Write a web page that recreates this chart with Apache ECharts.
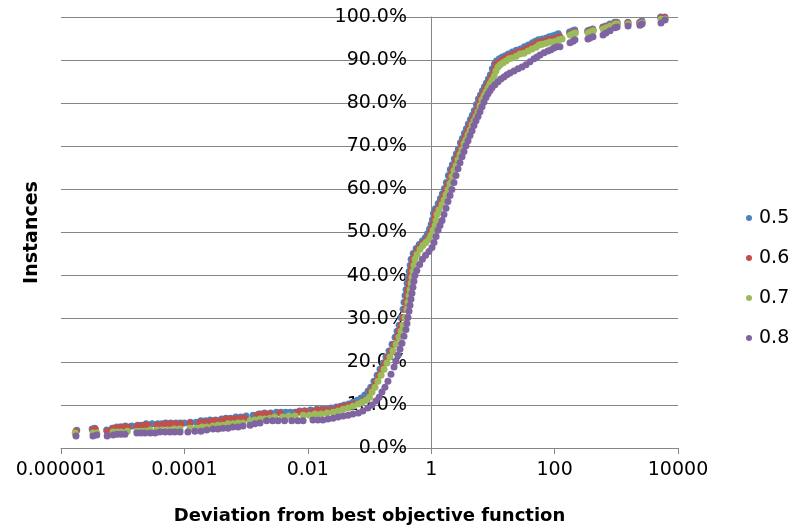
<!DOCTYPE html>
<html><head><meta charset="utf-8">
<script src="https://cdn.jsdelivr.net/npm/echarts@6/dist/echarts.min.js"></script>
<style>html,body{margin:0;padding:0;background:#fff}#c{width:793px;height:530px}</style>
</head><body><div id="c"></div>
<script>
const seriesNames = ['0.5', '0.6', '0.7', '0.8'];
const xTickLabels = ['0.000001', '0.0001', '0.01', '1', '100', '10000'];
const yTickLabels = ['0.0%', '10.0%', '20.0%', '30.0%', '40.0%', '50.0%', '60.0%', '70.0%', '80.0%', '90.0%', '100.0%'];

const s05 = [[1.8e-6,4.1],[3.2e-6,4.4],[3.5e-6,4.6],[5.5e-6,4.2],[6.8e-6,4.6],[8.0e-6,4.9],[9.2e-6,4.9],[1.1e-5,5.1],[1.4e-5,5.1],[1.75e-5,5.3],[2.0e-5,5.3],[2.4e-5,5.6],[3.0e-5,5.6],[3.7e-5,5.6],[4.3e-5,5.6],[5.0e-5,5.8],[6.0e-5,5.8],[7.3e-5,5.8],[8.6e-5,5.8],[1.0e-4,5.8],[1.25e-4,6.0],[1.55e-4,6.0],[1.85e-4,6.3],[2.2e-4,6.3],[2.6e-4,6.5],[3.2e-4,6.5],[4.0e-4,6.7],[4.7e-4,6.9],[5.6e-4,6.9],[6.8e-4,7.2],[8.2e-4,7.2],[1.0e-3,7.4],[1.3e-3,7.6],[1.6e-3,7.9],[2.0e-3,8.1],[2.5e-3,8.1],[3.1e-3,8.3],[3.7e-3,8.3],[4.4e-3,8.3],[5.2e-3,8.3],[6.2e-3,8.3],[7.4e-3,8.6],[8.8e-3,8.6],[1.1e-2,8.8],[1.4e-2,9.0],[1.7e-2,9.0],[2.0e-2,9.0],[2.4e-2,9.3],[2.9e-2,9.5],[3.4e-2,9.7],[3.9e-2,10.0],[4.6e-2,10.2],[5.4e-2,10.6],[6.3e-2,11.1],[7.3e-2,11.6],[8.4e-2,12.3],[9.5e-2,13.2],
[0.105,14.1],[0.118,15.5],[0.133,16.9],[0.148,18.3],[0.166,19.7],[0.185,21.1],[0.207,22.5],[0.232,24.1],[0.26,25.7],[0.28,27.1],[0.302,28.5],[0.325,30.3],[0.35,32.2],[0.363,33.8],[0.377,35.4],[0.392,36.8],[0.408,38.2],[0.423,39.6],[0.44,41.0],[0.456,42.4],[0.473,43.8],[0.51,45.1],[0.57,46.3],[0.64,47.2],[0.72,48.0],[0.8,48.8],[0.87,49.7],[0.94,50.8],[1.0,51.9],[1.05,53.0],[1.09,54.4],[1.17,55.5],[1.3,56.7],[1.41,57.9],[1.52,59.0],[1.64,60.2],[1.76,61.6],[1.9,63.2],[2.04,64.6],[2.2,65.7],[2.37,67.1],[2.56,68.3],[2.76,69.4],[2.98,70.8],[3.2,71.8],[3.45,73.0],[3.72,74.1],[4.0,75.2],[4.32,76.2],[4.65,77.2],[5.0,78.3],[5.4,79.7],[5.82,81.0],[6.28,81.9],[6.77,82.9],[7.3,83.8],[7.86,84.7],[8.45,85.6],[9.1,86.6],[9.8,88.0],[10.6,89.1],[11.4,89.8],[12.7,90.3],[14.2,90.7],[15.9,91.0],[17.8,91.4],[20.7,91.9],[24.0,92.3],[27.9,92.6],[32.4,93.1],[37.6,93.5],[43.7,94.0],[48.9,94.4],[54.6,94.7],[63.4,94.9],[73.5,95.1],[82.2,95.4],[92,95.6],[103,95.8],[115,96.1],[175,96.5],[196,96.8],[212,97.0],[345,96.8],[372,97.0],[415,97.2],[605,97.7],[675,97.9],[785,98.4],[940,98.8],[1020,98.8],[1540,98.8],[2400,98.8],[2600,99.1],[5250,100],[6100,100]];

const s06 = [[1.75e-6,3.9],[3.3e-6,4.2],[3.6e-6,4.4],[5.6e-6,3.9],[7.0e-6,4.6],[8.1e-6,4.6],[9.4e-6,4.9],[1.09e-5,4.9],[1.22e-5,4.9],[1.7e-5,5.1],[1.98e-5,5.1],[2.3e-5,5.3],[2.57e-5,5.3],[3.6e-5,5.3],[4.17e-5,5.3],[4.85e-5,5.6],[5.85e-5,5.6],[7.0e-5,5.6],[8.8e-5,5.6],[1.23e-4,5.8],[1.79e-4,6.0],[2.08e-4,6.0],[2.41e-4,6.0],[2.9e-4,6.3],[3.37e-4,6.3],[4.2e-4,6.5],[4.9e-4,6.7],[5.7e-4,6.7],[6.9e-4,6.7],[8.0e-4,6.9],[9.6e-4,6.9],[1.5e-3,7.6],[1.74e-3,7.9],[2.1e-3,7.9],[2.44e-3,7.9],[3.54e-3,8.1],[6.7e-3,8.3],[7.8e-3,8.3],[9.0e-3,8.6],[1.21e-2,8.6],[1.46e-2,8.8],[1.7e-2,8.8],[1.97e-2,8.8],[2.29e-2,8.8],[2.97e-2,9.3],[3.45e-2,9.5],[4.0e-2,9.7],[4.83e-2,10.0],[5.83e-2,10.2],[7.0e-2,10.4],[7.8e-2,10.9],[9.1e-2,11.3],
[0.102,13.0],[0.114,14.1],[0.127,15.5],[0.143,16.9],[0.159,18.3],[0.178,19.7],[0.199,21.1],[0.223,22.5],[0.25,24.1],[0.279,25.7],[0.30,27.1],[0.324,28.5],[0.349,30.3],[0.376,32.2],[0.39,33.8],[0.405,35.4],[0.42,36.8],[0.437,38.2],[0.453,39.6],[0.47,41.0],[0.488,42.4],[0.506,43.8],[0.545,44.9],[0.61,46.1],[0.68,47.0],[0.76,47.7],[0.85,48.4],[0.92,49.3],[0.99,50.5],[1.07,51.6],[1.11,52.8],[1.15,54.2],[1.24,55.3],[1.39,56.5],[1.5,57.6],[1.61,58.8],[1.74,60.0],[1.87,61.3],[2.02,63.0],[2.17,64.4],[2.34,65.5],[2.52,66.9],[2.72,68.1],[2.93,69.2],[3.16,70.6],[3.4,71.5],[3.66,72.7],[3.95,73.8],[4.26,75.0],[4.59,75.9],[4.94,76.9],[5.32,78.0],[5.74,79.4],[6.18,80.8],[6.66,81.7],[7.18,82.6],[7.74,83.6],[8.34,84.5],[8.98,85.4],[9.68,86.3],[10.4,87.7],[11.2,88.9],[12.1,89.4],[13.5,89.8],[15.1,90.3],[16.9,90.7],[18.9,91.0],[22.0,91.4],[25.5,91.9],[29.6,92.1],[34.4,92.6],[39.9,93.1],[46.4,93.5],[51.9,94.0],[58.0,94.2],[67.3,94.4],[78.1,94.7],[87.3,94.7],[97.7,94.9],[109,95.1],[122,95.4],[178,96.1],[199,96.3],[214,96.5],[347,96.5],[374,96.8],[419,97.0],[610,97.5],[681,97.7],[790,98.1],[950,98.6],[1030,98.6],[1550,98.6],[2420,98.6],[2610,98.8],[5300,99.8],[6150,99.8]];

const s07 = [[1.7e-6,3.5],[3.3e-6,3.5],[3.8e-6,3.5],[7.0e-6,3.7],[8.1e-6,3.7],[9.4e-6,3.7],[1.19e-5,3.9],[1.7e-5,3.9],[1.98e-5,3.9],[2.3e-5,3.9],[2.8e-5,4.2],[3.6e-5,4.2],[4.3e-5,4.2],[5.4e-5,4.2],[6.8e-5,4.4],[8.5e-5,4.4],[1.23e-4,4.6],[1.55e-4,4.6],[1.93e-4,4.9],[2.3e-4,4.9],[2.9e-4,5.1],[3.5e-4,5.3],[4.2e-4,5.3],[5.1e-4,5.6],[6.1e-4,5.6],[7.4e-4,5.8],[8.9e-4,5.8],[1.16e-3,6.3],[1.39e-3,6.5],[1.68e-3,6.7],[2.0e-3,6.7],[2.44e-3,6.9],[2.9e-3,7.2],[3.9e-3,7.2],[4.9e-3,7.4],[6.2e-3,7.4],[8.4e-3,7.6],[1.06e-2,7.6],[1.31e-2,7.9],[1.64e-2,7.9],[2.05e-2,8.1],[2.57e-2,8.3],[3.1e-2,8.6],[3.74e-2,9.0],[4.5e-2,9.3],[5.4e-2,9.7],[6.6e-2,10.2],[7.6e-2,10.6],[8.8e-2,11.1],[0.1,11.8],
[0.11,13.0],[0.123,14.1],[0.137,15.5],[0.154,16.9],[0.172,18.3],[0.192,19.7],[0.215,21.1],[0.241,22.5],[0.27,24.1],[0.3,25.7],[0.324,27.1],[0.35,28.5],[0.377,30.3],[0.406,32.2],[0.421,33.8],[0.437,35.4],[0.454,36.8],[0.472,38.2],[0.489,39.6],[0.508,41.0],[0.527,42.4],[0.547,43.8],[0.59,44.9],[0.66,46.1],[0.735,47.0],[0.82,47.7],[0.92,48.4],[0.99,49.3],[1.07,50.5],[1.16,51.6],[1.2,52.8],[1.24,54.2],[1.34,55.3],[1.5,56.5],[1.62,57.6],[1.74,58.8],[1.88,60.0],[2.02,61.3],[2.18,63.0],[2.34,64.4],[2.53,65.5],[2.72,66.9],[2.94,68.1],[3.16,69.2],[3.41,70.6],[3.67,71.5],[3.95,72.7],[4.27,73.8],[4.6,75.0],[4.96,75.9],[5.34,76.9],[5.75,78.0],[6.2,79.4],[6.67,80.8],[7.2,81.7],[7.75,82.6],[8.36,83.6],[9.0,84.5],[9.7,85.4],[10.5,86.3],[11.2,87.5],[12.1,88.4],[13.1,88.9],[14.6,89.4],[16.3,89.8],[18.3,90.3],[20.4,90.5],[23.8,90.9],[27.5,91.4],[32.0,91.6],[37.2,92.1],[43.1,92.6],[50.1,93.0],[56.0,93.5],[62.6,93.7],[72.7,93.9],[84.3,94.2],[94.3,94.2],[105,94.4],[118,94.7],[132,94.9],[180,95.8],[201,96.1],[216,96.3],[350,96.3],[377,96.5],[423,96.8],[615,97.2],[688,97.5],[798,97.9],[960,98.4],[1040,98.4],[1560,98.4],[2440,98.4],[2630,98.6],[5350,99.5],[6200,99.5]];

const s08 = [[1.75e-6,2.8],[3.3e-6,2.8],[3.8e-6,3.0],[5.6e-6,2.8],[7.0e-6,3.0],[8.1e-6,3.2],[9.4e-6,3.2],[1.09e-5,3.2],[1.7e-5,3.5],[1.98e-5,3.5],[2.3e-5,3.5],[2.8e-5,3.5],[3.35e-5,3.5],[4.0e-5,3.7],[4.85e-5,3.7],[5.85e-5,3.7],[7.0e-5,3.7],[8.5e-5,3.7],[1.14e-4,3.7],[1.48e-4,3.9],[1.86e-4,3.9],[2.3e-4,4.2],[2.9e-4,4.4],[3.5e-4,4.4],[4.2e-4,4.6],[5.1e-4,4.6],[6.1e-4,4.9],[7.4e-4,4.9],[8.9e-4,5.1],[1.16e-3,5.3],[1.39e-3,5.6],[1.68e-3,5.8],[2.15e-3,6.3],[2.7e-3,6.3],[3.3e-3,6.3],[4.2e-3,6.3],[5.5e-3,6.3],[6.9e-3,6.3],[8.4e-3,6.3],[1.21e-2,6.5],[1.46e-2,6.5],[1.76e-2,6.5],[2.12e-2,6.7],[2.57e-2,6.9],[3.1e-2,7.2],[3.74e-2,7.4],[4.5e-2,7.6],[5.4e-2,7.9],[6.6e-2,8.1],[7.8e-2,8.6],[9.4e-2,9.3],
[0.11,10.0],[0.127,10.9],[0.143,11.8],[0.159,13.0],[0.178,14.1],[0.199,15.5],[0.223,17.1],[0.25,18.8],[0.268,20.1],[0.29,21.5],[0.312,22.9],[0.336,24.3],[0.362,25.9],[0.39,27.5],[0.405,28.9],[0.42,30.3],[0.437,31.7],[0.453,33.1],[0.47,34.5],[0.488,35.9],[0.506,37.3],[0.525,38.7],[0.545,40.0],[0.585,41.2],[0.65,42.6],[0.72,43.8],[0.81,44.7],[0.92,45.6],[1.03,46.5],[1.11,47.7],[1.2,49.1],[1.29,50.5],[1.39,51.6],[1.5,52.8],[1.61,54.2],[1.74,55.6],[1.87,57.2],[2.02,58.6],[2.17,60.0],[2.34,61.6],[2.52,63.2],[2.72,64.8],[2.93,66.2],[3.16,67.6],[3.4,68.8],[3.66,70.1],[3.95,71.3],[4.26,72.5],[4.59,73.6],[4.94,74.8],[5.32,75.9],[5.74,76.9],[6.18,78.0],[6.66,79.2],[7.18,80.3],[7.74,81.3],[8.34,82.2],[8.98,82.9],[9.68,83.6],[10.8,84.3],[12.1,85.0],[13.5,85.6],[15.1,86.1],[16.9,86.6],[18.9,87.0],[22.0,87.5],[25.5,88.0],[29.6,88.4],[34.4,88.9],[39.9,89.6],[46.4,90.3],[51.9,90.7],[58.0,91.2],[67.3,91.7],[78.1,92.1],[87.3,92.4],[97.7,92.8],[109,93.1],[122,93.1],[178,94.0],[199,94.4],[214,94.7],[347,94.9],[374,95.1],[419,95.4],[610,95.8],[681,96.3],[790,96.8],[950,97.5],[1030,97.7],[1550,97.9],[2420,98.1],[2610,98.4],[5300,98.6],[6150,99.3]];

const seriesData = [s05, s06, s07, s08];
const colors = ['#4F81BD', '#C0504D', '#9BBB59', '#8064A2'];
const FONT = '"DejaVu Sans", sans-serif';

const chart = echarts.init(document.getElementById('c'), null, {renderer: 'canvas'});
chart.setOption({
  animation: false,
  backgroundColor: '#ffffff',
  grid: {left: 61, right: 115, top: 17, bottom: 81, containLabel: false},
  legend: {
    orient: 'vertical', left: 741, top: 203, itemGap: 20,
    itemWidth: 6, itemHeight: 6, icon: 'circle',
    data: seriesNames,
    textStyle: {fontFamily: FONT, fontSize: 19, color: '#000', lineHeight: 20, padding: [0, 0, 0, 2]}
  },
  xAxis: {
    type: 'log', logBase: 100, min: 1e-6, max: 1e4,
    name: 'Deviation from best objective function', nameLocation: 'middle', nameGap: 59,
    nameTextStyle: {fontFamily: FONT, fontSize: 18, fontWeight: 'bold', color: '#000'},
    axisLine: {show: true, onZero: false, lineStyle: {color: '#868686', width: 1}},
    axisTick: {show: true, length: 6, lineStyle: {color: '#868686'}},
    minorTick: {show: false},
    splitLine: {show: false},
    axisLabel: {
      margin: 13, fontFamily: FONT, fontSize: 19, color: '#000',
      formatter: function (v) {
        const e = Math.round(Math.log10(v));
        const i = (e + 6) / 2;
        return xTickLabels[i] !== undefined ? xTickLabels[i] : '';
      }
    }
  },
  yAxis: {
    type: 'value', min: 0, max: 100, interval: 10, offset: -370,
    name: 'Instances', nameLocation: 'middle', nameGap: 389, nameRotate: 90,
    nameTextStyle: {fontFamily: FONT, fontSize: 19, fontWeight: 'bold', color: '#000'},
    axisLine: {show: true, onZero: false, lineStyle: {color: '#868686', width: 1}},
    axisTick: {show: false},
    splitLine: {show: true, lineStyle: {color: '#868686', width: 1}},
    axisLabel: {
      margin: 24, fontFamily: FONT, fontSize: 19, color: '#000',
      formatter: function (v) { return yTickLabels[Math.round(v / 10)]; }
    }
  },
  series: seriesData.map(function (d, i) {
    return {
      name: seriesNames[i], type: 'scatter', data: d,
      symbol: 'circle', symbolSize: 7,
      itemStyle: {color: colors[i], opacity: 1},
      z: 2 + i
    };
  })
});
</script>
</body></html>
